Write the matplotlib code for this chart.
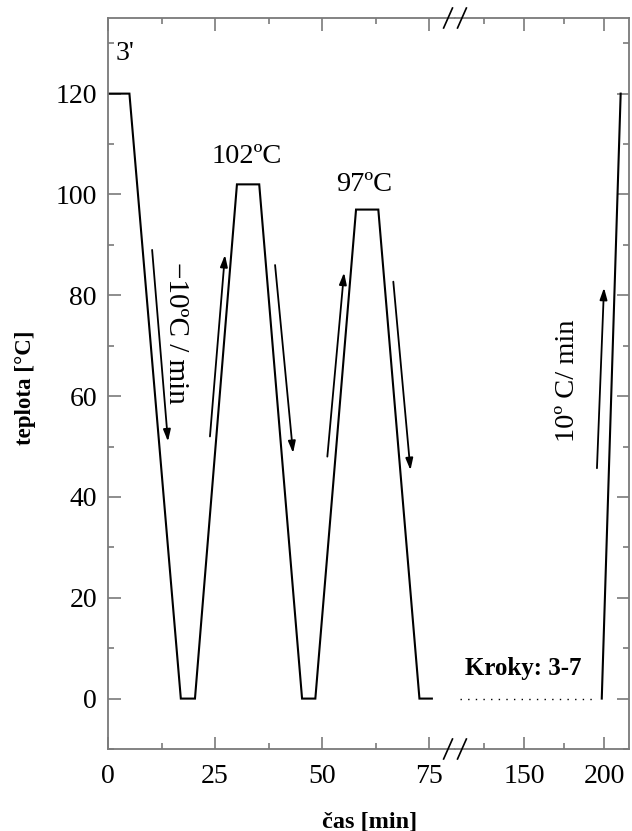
import numpy as np
import matplotlib
matplotlib.use("Agg")
import matplotlib.pyplot as plt

plt.rcParams['font.family'] = ['Liberation Serif', 'DejaVu Serif']

# temperature profile, first part (min, degC)
time_a = [0, 5, 17, 20.3, 30.1, 35.3, 45.3, 48.4, 57.9, 63.1, 72.7, 75.6]
temp_a = [120, 120, 0, 0, 102, 102, 0, 0, 97, 97, 0, 0]
# dotted repeat of steps, and final ramp (second part)
time_rep = [110, 193.5]
temp_rep = [0, 0]
time_b = [198.6, 210.4]
temp_b = [0, 120]

# arrows: (tail_x, tail_y, head_x, head_y)
arrows_a = [(10.3, 89, 14.0, 51),
            (23.8, 52, 27.3, 88),
            (39.0, 86, 43.2, 48.7),
            (51.2, 48, 55.1, 84.5),
            (66.6, 82.7, 70.6, 45.3)]
arrows_b = [(195.6, 45.7, 200.0, 81.5)]

spine_col = '#7a7a7a'
W, H = 632, 831
fig = plt.figure(figsize=(W / 100, H / 100), dpi=100)
bottom = 1 - 749 / H
height = (749 - 18) / H
ax = fig.add_axes([108 / W, bottom, (455 - 108) / W, height])
ax2 = fig.add_axes([455 / W, bottom, (629 - 455) / W, height])

ax.plot(time_a, temp_a, color='black', lw=1.5, solid_joinstyle='miter')
ax2.plot(time_rep, temp_rep, color='black', lw=1.0, linestyle=(0, (1, 4.5)))
ax2.plot(time_b, temp_b, color='black', lw=1.5)

for a, arr in ((ax, arrows_a), (ax2, arrows_b)):
    for tx, ty, hx, hy in arr:
        a.annotate('', xy=(hx, hy), xytext=(tx, ty),
                   arrowprops=dict(arrowstyle='-|>,head_length=0.7,head_width=0.22',
                                   color='black', lw=1.3, shrinkA=0, shrinkB=0))

ax.set_xlim(0, 81)
ax2.set_xlim(107, 215.6)
for a in (ax, ax2):
    a.set_ylim(-10, 135)
    for s in a.spines.values():
        s.set_color(spine_col)
        s.set_linewidth(1.3)
    a.tick_params(which='both', direction='in', color=spine_col, width=1.2,
                  labelsize=20, top=True)
    a.tick_params(which='major', length=9)
    a.tick_params(which='minor', length=4.5)
    a.tick_params(axis='x', pad=11)
    a.tick_params(axis='y', pad=8)
    a.set_yticks(np.arange(0, 121, 20))
    a.set_yticks(np.arange(-10, 135, 10), minor=True)

ax.spines['right'].set_visible(False)
ax2.spines['left'].set_visible(False)
ax.set_xticks([0, 25, 50, 75])
ax.set_xticks([12.5, 37.5, 62.5], minor=True)
ax2.set_xticks([150, 200])
ax2.set_xticks([125, 175], minor=True)
ax2.tick_params(axis='y', which='both', left=False, right=True, labelleft=False)

# break marks on top and bottom spine
for yb in (0, 1):
    for dx in (-0.011, 0.011):
        fig.add_artist(plt.Line2D([455 / W + dx - 0.007, 455 / W + dx + 0.007],
                                  [bottom + yb * height - 0.012, bottom + yb * height + 0.012],
                                  color='black', lw=1.2, transform=fig.transFigure))

ax.text(1.8, 128, "3'", fontsize=20, ha='left', va='center')
ax.text(32.5, 107.5, '102ºC', fontsize=20.5, ha='center', va='center')
ax.text(59.8, 102, '97ºC', fontsize=20.5, ha='center', va='center')
ax.text(15.8, 72.5, '\u221210ºC / min', fontsize=21, rotation=-90, ha='center', va='center')
ax2.text(177.5, 63, '10º C/ min', fontsize=20.5, rotation=90, ha='center', va='center')
ax2.text(149.5, 6, 'Kroky: 3-7', fontsize=18, fontweight='bold', ha='center', va='center')

fig.text(25 / W, 1 - 388 / H, 'teplota [°C]', fontsize=16.5, fontweight='bold',
         rotation=90, ha='center', va='center')
fig.text(370 / W, 1 - 822 / H, 'čas [min]', fontsize=17.5, fontweight='bold',
         ha='center', va='center')

fig.savefig('out.png', dpi=100)
